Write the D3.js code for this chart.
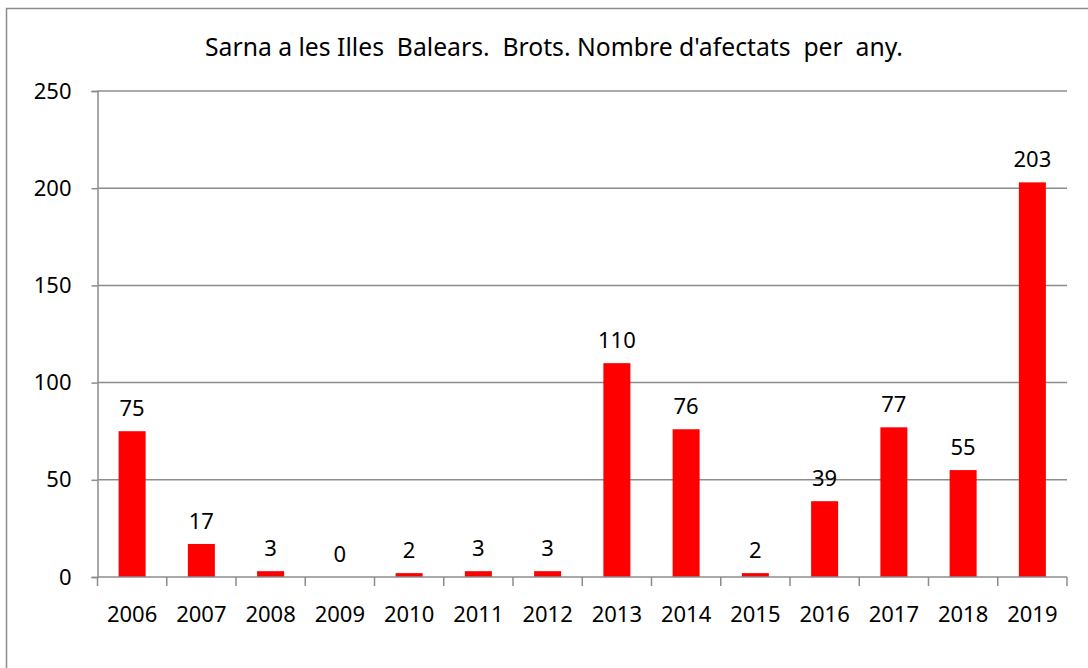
<!DOCTYPE html>
<html>
<head>
<meta charset="utf-8">
<script src="https://cdn.jsdelivr.net/npm/d3@7"></script>
<style>
  body { margin: 0; background: #fff; }
  svg text { font-family: "Noto Sans", "Open Sans", sans-serif; fill: #000; }
</style>
</head>
<body>
<div id="chart"></div>
<script>
const years = ["2006", "2007", "2008", "2009", "2010", "2011", "2012", "2013", "2014", "2015", "2016", "2017", "2018", "2019"];
const cases = [75, 17, 3, 0, 2, 3, 3, 110, 76, 2, 39, 77, 55, 203];
const yTicks = [0, 50, 100, 150, 200, 250];
const title = "Sarna a les Illes  Balears.  Brots. Nombre d'afectats  per  any.";

const width = 1088, height = 668;
const plotLeft = 97.5, plotRight = 1067, plotTop = 91, plotBottom = 577;
const gridColor = "#8c8c8c";

const svg = d3.select("#chart").append("svg")
    .attr("width", width)
    .attr("height", height);

svg.append("rect")
    .attr("width", width).attr("height", height)
    .attr("fill", "#fff");

// chart frame (runs off the right and bottom edges)
svg.append("rect")
    .attr("x", 6.5).attr("y", 8.5)
    .attr("width", 1200).attr("height", 800)
    .attr("fill", "none")
    .attr("stroke", gridColor)
    .attr("stroke-width", 1.5);

// title is drawn condensed, like the original
svg.append("text")
    .attr("x", 205).attr("y", 56)
    .attr("font-size", 25)
    .attr("textLength", 698)
    .attr("lengthAdjust", "spacingAndGlyphs")
    .style("white-space", "pre")
    .text(title);

const x = d3.scaleBand()
    .domain(years)
    .range([plotLeft, plotRight])
    .paddingInner(0.61)
    .paddingOuter(0.305);

const y = d3.scaleLinear()
    .domain([0, 250])
    .range([plotBottom, plotTop]);

// gridlines
svg.append("g")
    .selectAll("line")
    .data(yTicks.filter(d => d > 0))
    .join("line")
    .attr("x1", plotLeft).attr("x2", plotRight)
    .attr("y1", d => y(d)).attr("y2", d => y(d))
    .attr("stroke", gridColor)
    .attr("stroke-width", 1.5);

// y axis
const yAxis = svg.append("g")
    .attr("transform", `translate(${plotLeft},0)`)
    .call(d3.axisLeft(y).tickValues(yTicks).tickSize(6).tickPadding(20));
yAxis.attr("font-size", null).attr("font-family", null);
yAxis.select(".domain").attr("stroke", gridColor).attr("stroke-width", 1.5);
yAxis.selectAll(".tick line").attr("stroke", gridColor).attr("stroke-width", 1.5);
yAxis.selectAll(".tick text")
    .attr("font-size", 22)
    .attr("fill", "#000");

// bars
svg.append("g")
    .selectAll("rect")
    .data(cases)
    .join("rect")
    .attr("x", (d, i) => x(years[i]))
    .attr("y", d => y(d))
    .attr("width", x.bandwidth())
    .attr("height", d => plotBottom - y(d))
    .attr("fill", "#ff0000");

// value labels
svg.append("g")
    .selectAll("text")
    .data(cases)
    .join("text")
    .attr("x", (d, i) => x(years[i]) + x.bandwidth() / 2)
    .attr("y", d => y(d) - 15)
    .attr("text-anchor", "middle")
    .attr("font-size", 22)
    .text(d => d);

// x axis with ticks at category boundaries
const xAxis = svg.append("g");
xAxis.append("line")
    .attr("x1", plotLeft).attr("x2", plotRight)
    .attr("y1", plotBottom).attr("y2", plotBottom)
    .attr("stroke", gridColor)
    .attr("stroke-width", 1.5);
const step = x.step();
xAxis.selectAll("line.tick")
    .data(d3.range(years.length + 1))
    .join("line")
    .attr("class", "tick")
    .attr("x1", i => plotLeft + i * step).attr("x2", i => plotLeft + i * step)
    .attr("y1", plotBottom).attr("y2", plotBottom + 9)
    .attr("stroke", gridColor)
    .attr("stroke-width", 1.5);
xAxis.selectAll("text")
    .data(years)
    .join("text")
    .attr("x", d => x(d) + x.bandwidth() / 2)
    .attr("y", 622)
    .attr("text-anchor", "middle")
    .attr("font-size", 22)
    .text(d => d);
</script>
</body>
</html>
